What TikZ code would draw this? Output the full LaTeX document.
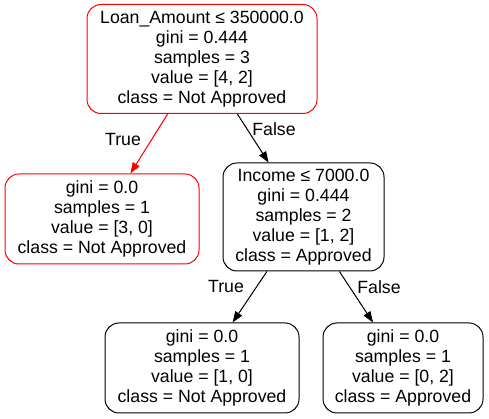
\documentclass[tikz,border=0pt]{standalone}
\usepackage{fontspec}
\setmainfont{Liberation Sans}
\usetikzlibrary{arrows.meta}
\tikzset{
  treenode/.style={draw=black, line width=1pt, rounded corners=14pt, align=center,
    inner sep=0pt, font=\fontsize{17.7}{20}\selectfont},
  rednode/.style={treenode, draw=red},
  edge/.style={draw=black, line width=1pt, -{Triangle[length=11pt,width=8pt]}},
  rededge/.style={edge, draw=red, fill=red},
  elabel/.style={font=\fontsize{17.7}{20}\selectfont, inner sep=0pt}
}
\begin{document}
\begin{tikzpicture}[x=1pt,y=1pt]
\useasboundingbox (0,0) rectangle (489,419);
\node[rednode, minimum width=230pt, minimum height=109pt] (root) at (202,360)
  {Loan\_Amount ≤ 350000.0\\gini = 0.444\\samples = 3\\value = [4, 2]\\class = Not Approved};
\node[rednode, minimum width=194pt, minimum height=90pt] (left) at (102,200)
  {gini = 0.0\\samples = 1\\value = [3, 0]\\class = Not Approved};
\node[treenode, minimum width=161pt, minimum height=108pt] (income) at (303.5,202)
  {Income ≤ 7000.0\\gini = 0.444\\samples = 2\\value = [1, 2]\\class = Approved};
\node[treenode, minimum width=194pt, minimum height=90pt] (bl) at (202,51)
  {gini = 0.0\\samples = 1\\value = [1, 0]\\class = Not Approved};
\node[treenode, minimum width=160pt, minimum height=90pt] (br) at (403,51)
  {gini = 0.0\\samples = 1\\value = [0, 2]\\class = Approved};
\draw[rededge] (root) -- (left);
\draw[edge, fill=black] (root) -- (income);
\draw[edge, fill=black] (income) -- (bl);
\draw[edge, fill=black] (income) -- (br);
\node[elabel] (t1) at (123,279) {True};
\node[elabel] (f1) at (274,290) {False};
\node[elabel] (t2) at (226,132) {True};
\node[elabel] (f2) at (379,132) {False};
\end{tikzpicture}
\end{document}
